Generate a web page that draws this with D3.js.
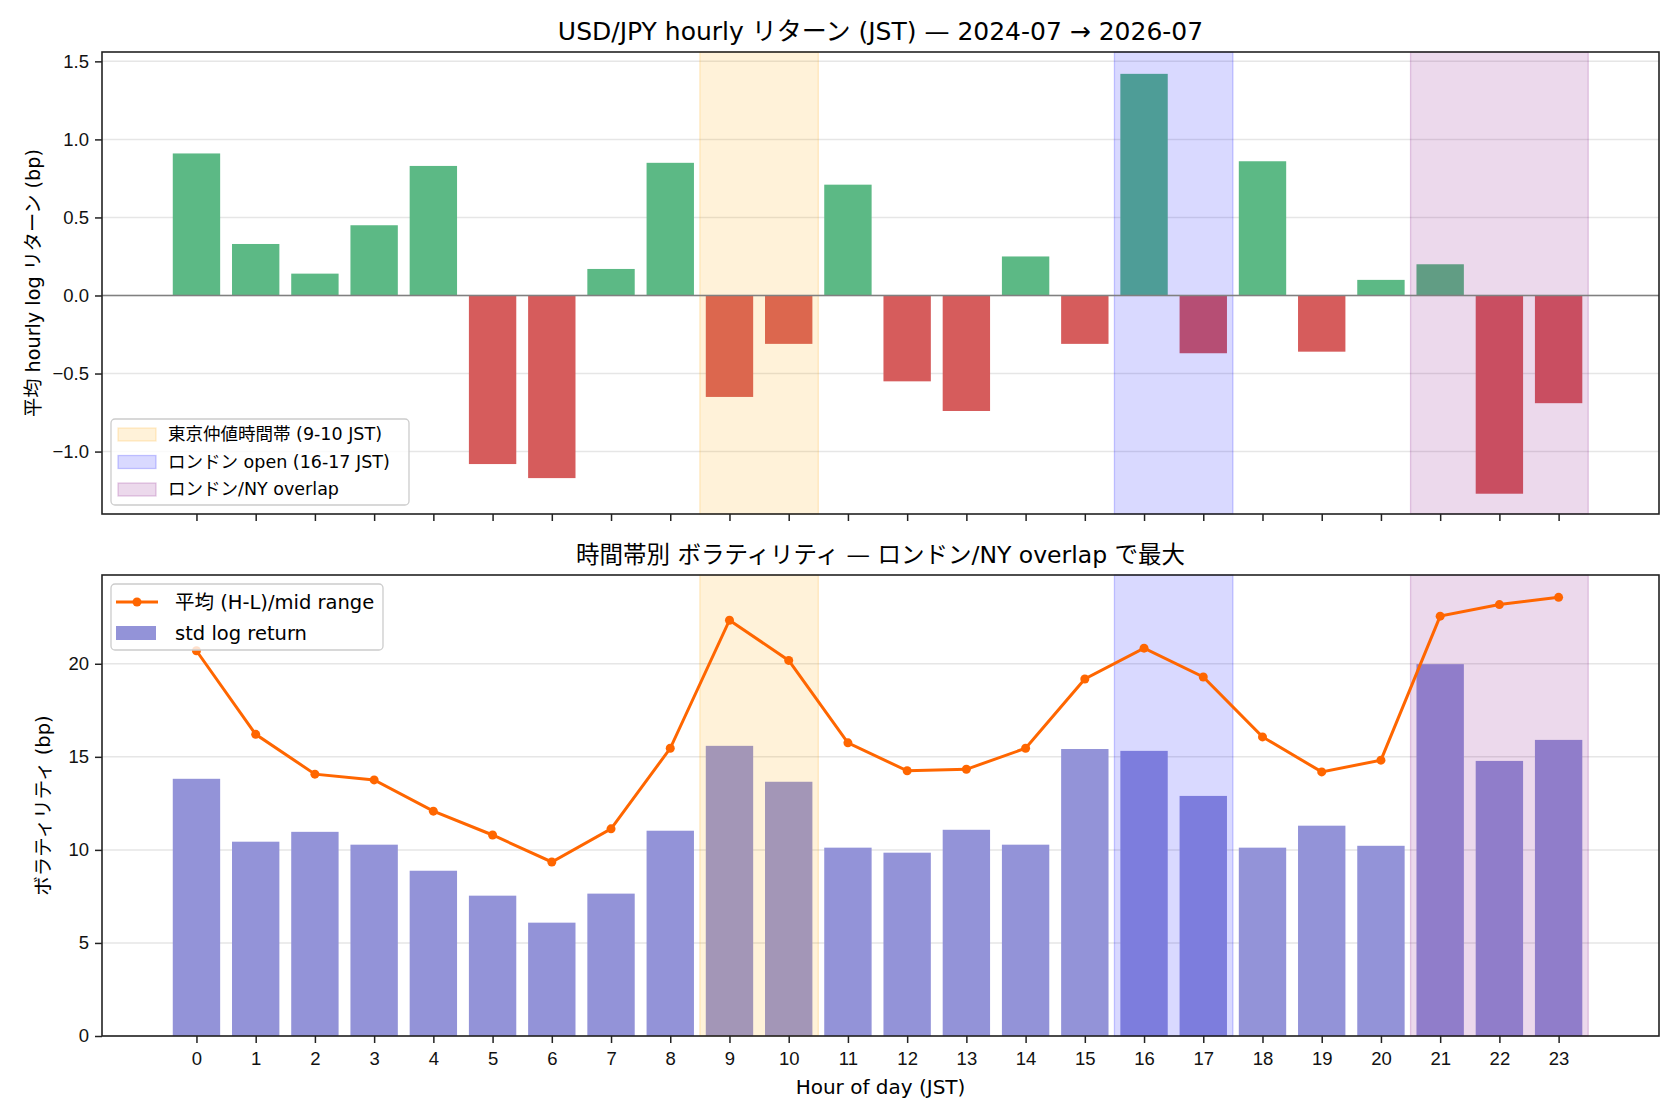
<!DOCTYPE html>
<html>
<head>
<meta charset="utf-8">
<script src="https://cdn.jsdelivr.net/npm/d3@7"></script>
<style>
  body { margin: 0; background: #fff; }
  svg { font-family: "DejaVu Sans", "Noto Sans CJK JP", sans-serif; }
  .tick text { fill: #111; }
</style>
</head>
<body>
<div id="chart"></div>
<script>
// hour of day (JST)
var hours = [0, 1, 2, 3, 4, 5, 6, 7, 8, 9, 10, 11, 12, 13, 14, 15, 16, 17, 18, 19, 20, 21, 22, 23];
// mean hourly log return (bp)
var meanRet = [0.91, 0.33, 0.14, 0.45, 0.83, -1.08, -1.17, 0.17, 0.85, -0.65, -0.31, 0.71,
               -0.55, -0.74, 0.25, -0.31, 1.42, -0.37, 0.86, -0.36, 0.10, 0.20, -1.27, -0.69];
// std of log return (bp)
var stdRet = [13.82, 10.44, 10.97, 10.28, 8.88, 7.54, 6.09, 7.65, 11.03, 15.59, 13.66, 10.12,
              9.85, 11.08, 10.28, 15.42, 15.32, 12.90, 10.12, 11.30, 10.22, 19.98, 14.78, 15.91];
// mean (H-L)/mid range (bp)
var hlRange = [20.70, 16.21, 14.07, 13.76, 12.08, 10.80, 9.35, 11.13, 15.46, 22.34, 20.18, 15.75,
               14.25, 14.33, 15.46, 19.18, 20.84, 19.29, 16.07, 14.19, 14.82, 22.56, 23.18, 23.57];

var sessionNames = ["東京仲値時間帯 (9-10 JST)", "ロンドン open (16-17 JST)", "ロンドン/NY overlap"];
var sessionStart = [8.5, 15.5, 20.5];
var sessionEnd = [10.5, 17.5, 23.5];
var sessionColors = ["#ffa500", "#0000ff", "#800080"];

var topTicks = [-1.0, -0.5, 0.0, 0.5, 1.0, 1.5];
var bottomTicks = [0, 5, 10, 15, 20];

var W = 1680, H = 1120;
var left = 102, right = 1659;
var top1 = 52, bot1 = 514;
var top2 = 575, bot2 = 1036;
var posColor = "#5cb985", negColor = "#d65c5c", stdColor = "#9393d8", lineColor = "#ff6600";

var svg = d3.select("#chart").append("svg")
    .attr("width", W)
    .attr("height", H);

var x = d3.scaleLinear().domain([-1.595, 24.695]).range([left, right]);
var bw = x(0.8) - x(0); // bar width 0.8

var y1 = d3.scaleLinear().domain([-1.40, 1.56]).range([bot1, top1]);
var y2 = d3.scaleLinear().domain([0, 24.77]).range([bot2, top2]);

function drawGrid(g, y, ticks) {
    g.selectAll(".grid").data(ticks).enter().append("line")
        .attr("x1", left).attr("x2", right)
        .attr("y1", function (d) { return y(d); })
        .attr("y2", function (d) { return y(d); })
        .style("stroke", "#e6e6e6")
        .style("stroke-width", 1.5);
}

function drawSpans(g, y0, y1p) {
    sessionStart.forEach(function (s, i) {
        g.append("rect")
            .attr("x", x(s))
            .attr("y", y0)
            .attr("width", x(sessionEnd[i]) - x(s))
            .attr("height", y1p - y0)
            .style("fill", sessionColors[i])
            .style("fill-opacity", 0.15)
            .style("stroke", sessionColors[i])
            .style("stroke-opacity", 0.2)
            .style("stroke-width", 1.3);
    });
}

function drawAxes(g, y, ticks, fmt, yb, yt, showX) {
    g.append("g")
        .attr("transform", "translate(" + left + ",0)")
        .call(d3.axisLeft(y).tickValues(ticks).tickFormat(fmt).tickSize(7).tickPadding(6))
        .call(function (a) {
            a.select(".domain").remove();
            a.selectAll(".tick line").style("stroke", "#222").style("stroke-width", 1.5);
            a.selectAll(".tick text").style("font-size", "18.5px");
        });
    var ax = d3.scaleLinear().domain(x.domain()).range(x.range());
    g.append("g")
        .attr("transform", "translate(0," + yb + ")")
        .call(d3.axisBottom(ax).tickValues(hours).tickFormat(showX ? d3.format("d") : "").tickSize(7).tickPadding(9))
        .call(function (a) {
            a.select(".domain").remove();
            a.selectAll(".tick line").style("stroke", "#222").style("stroke-width", 1.5);
            a.selectAll(".tick text").style("font-size", "18.5px");
        });
    g.append("rect")
        .attr("x", left).attr("y", yt)
        .attr("width", right - left).attr("height", yb - yt)
        .style("fill", "none")
        .style("stroke", "#222")
        .style("stroke-width", 1.6);
}

// ---------- top panel ----------
var g1 = svg.append("g");
drawGrid(g1, y1, topTicks);

g1.selectAll(".ret").data(hours).enter().append("rect")
    .attr("x", function (d) { return x(d) - bw / 2; })
    .attr("y", function (d, i) { return y1(Math.max(0, meanRet[i])); })
    .attr("width", bw)
    .attr("height", function (d, i) { return Math.abs(y1(meanRet[i]) - y1(0)); })
    .style("fill", function (d, i) { return meanRet[i] >= 0 ? posColor : negColor; });

drawSpans(g1, top1, bot1);

g1.append("line")
    .attr("x1", left).attr("x2", right)
    .attr("y1", y1(0)).attr("y2", y1(0))
    .style("stroke", "#808080")
    .style("stroke-width", 1.6);

drawAxes(g1, y1, topTicks, d3.format(".1f"), bot1, top1, false);

svg.append("text")
    .attr("x", (left + right) / 2).attr("y", top1 - 12)
    .attr("text-anchor", "middle")
    .style("font-size", "25px")
    .text("USD/JPY hourly リターン (JST) — 2024-07 → 2026-07");

svg.append("text")
    .attr("transform", "translate(40," + (top1 + bot1) / 2 + ") rotate(-90)")
    .attr("text-anchor", "middle")
    .style("font-size", "19.2px")
    .text("平均 hourly log リターン (bp)");

// legend top
var lg1 = svg.append("g");
lg1.append("rect")
    .attr("x", 111).attr("y", 419).attr("width", 298).attr("height", 86)
    .attr("rx", 4)
    .style("fill", "#fff").style("fill-opacity", 0.8)
    .style("stroke", "#cccccc").style("stroke-width", 1.3);
sessionNames.forEach(function (n, i) {
    var yy = 434 + i * 27.5;
    lg1.append("rect")
        .attr("x", 118).attr("y", yy - 6).attr("width", 38).attr("height", 13)
        .style("fill", sessionColors[i]).style("fill-opacity", 0.15)
        .style("stroke", sessionColors[i]).style("stroke-opacity", 0.2).style("stroke-width", 1.3);
    lg1.append("text")
        .attr("x", 168).attr("y", yy + 6)
        .style("font-size", "17.5px")
        .text(n);
});

// ---------- bottom panel ----------
var g2 = svg.append("g");
drawGrid(g2, y2, bottomTicks);

g2.selectAll(".std").data(hours).enter().append("rect")
    .attr("x", function (d) { return x(d) - bw / 2; })
    .attr("y", function (d, i) { return y2(stdRet[i]); })
    .attr("width", bw)
    .attr("height", function (d, i) { return y2(0) - y2(stdRet[i]); })
    .style("fill", stdColor);

drawSpans(g2, top2, bot2);

var line = d3.line()
    .x(function (d) { return x(d); })
    .y(function (d, i) { return y2(hlRange[i]); });

g2.append("path")
    .datum(hours)
    .attr("d", line)
    .style("fill", "none")
    .style("stroke", lineColor)
    .style("stroke-width", 3);

g2.selectAll(".dot").data(hours).enter().append("circle")
    .attr("cx", function (d) { return x(d); })
    .attr("cy", function (d, i) { return y2(hlRange[i]); })
    .attr("r", 4.5)
    .style("fill", lineColor);

drawAxes(g2, y2, bottomTicks, d3.format("d"), bot2, top2, true);

svg.append("text")
    .attr("x", (left + right) / 2).attr("y", top2 - 12)
    .attr("text-anchor", "middle")
    .style("font-size", "23.5px")
    .text("時間帯別 ボラティリティ — ロンドン/NY overlap で最大");

svg.append("text")
    .attr("transform", "translate(50," + (top2 + bot2) / 2 + ") rotate(-90)")
    .attr("text-anchor", "middle")
    .style("font-size", "19.5px")
    .text("ボラティリティ (bp)");

svg.append("text")
    .attr("x", (left + right) / 2).attr("y", 1094)
    .attr("text-anchor", "middle")
    .style("font-size", "20px")
    .text("Hour of day (JST)");

// legend bottom
var lg2 = svg.append("g");
lg2.append("rect")
    .attr("x", 111).attr("y", 584).attr("width", 272).attr("height", 66)
    .attr("rx", 4)
    .style("fill", "#fff").style("fill-opacity", 0.8)
    .style("stroke", "#cccccc").style("stroke-width", 1.3);
lg2.append("line")
    .attr("x1", 116).attr("x2", 158).attr("y1", 602).attr("y2", 602)
    .style("stroke", lineColor).style("stroke-width", 3);
lg2.append("circle")
    .attr("cx", 137).attr("cy", 602).attr("r", 4.5)
    .style("fill", lineColor);
lg2.append("text")
    .attr("x", 175).attr("y", 609)
    .style("font-size", "19.5px")
    .text("平均 (H-L)/mid range");
lg2.append("rect")
    .attr("x", 116).attr("y", 626).attr("width", 40).attr("height", 14)
    .style("fill", stdColor);
lg2.append("text")
    .attr("x", 175).attr("y", 640)
    .style("font-size", "19.5px")
    .text("std log return");
</script>
</body>
</html>
